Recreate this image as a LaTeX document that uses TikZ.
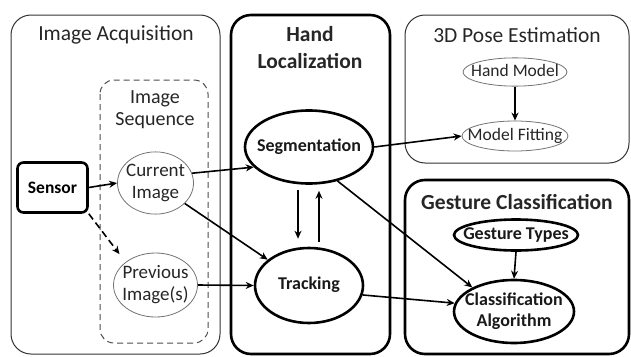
\documentclass[tikz,border=0pt]{standalone}
\usepackage{fontspec}
\setmainfont{Carlito}
\usetikzlibrary{shapes.geometric,arrows.meta,calc}
\newcommand\zw[1]{\makebox[0pt]{\begin{tabular}{@{}c@{}}#1\end{tabular}}}
\begin{document}
\begin{tikzpicture}[x=1pt,y=-1pt,
  thinbox/.style={draw=black!80, line width=1pt, rounded corners=20pt},
  thickbox/.style={draw=black, line width=2.6pt, rounded corners=20pt},
  dashbox/.style={draw=black!70, line width=1pt, dash pattern=on 6pt off 4pt, rounded corners=14pt},
  title/.style={text=black!85, font=\fontsize{21.5}{25}\selectfont},
  btitle/.style={text=black!85, font=\fontsize{21.5}{27}\selectfont\bfseries, align=center},
  thinell/.style={ellipse, draw=black!55, line width=0.8pt, inner sep=0pt, text=black!85, font=\fontsize{19}{22}\selectfont},
  smallell/.style={ellipse, draw=black!55, line width=0.8pt, inner sep=0pt, text=black!85, font=\fontsize{17.5}{20}\selectfont},
  thickell/.style={ellipse, draw=black, line width=2.6pt, inner sep=0pt, text=black!90, font=\fontsize{18}{21}\selectfont\bfseries},
  arr/.style={draw=black, line width=1.6pt, -{Stealth[length=8pt,width=7pt]}},
]
\useasboundingbox (0,0) rectangle (631,356);
% containers
\draw[thinbox] (11,15) rectangle (220,354);
\draw[dashbox] (100,80) rectangle (208,343);
\draw[thickbox] (231,15) rectangle (390,354);
\draw[thinbox] (405,15) rectangle (629,163);
\draw[thickbox] (405,180) rectangle (629,354);
% titles
\node[title] (acqT) at (116,35) {Image Acquisition};
\node[text=black!85, font=\fontsize{20}{22}\selectfont, align=center] (seqT) at (155,110) {Image\\Sequence};
\node[btitle] (hlT) at (310,48) {Hand\\Localization};
\node[title] (poseT) at (517,35) {3D Pose Estimation};
\node[btitle] (gcT) at (517,202) {Gesture Classification};
% nodes
\node[draw=black, line width=2.6pt, rounded corners=6pt, minimum width=70pt, minimum height=50pt,
      font=\fontsize{17.5}{21}\selectfont\bfseries] (sensor) at (52.5,187.5) {Sensor};
\node[thinell, minimum width=76pt, minimum height=62pt] (cur) at (155.5,183) {\zw{Current\\Image}};
\node[thinell, minimum width=84pt, minimum height=64pt] (prev) at (155.5,285) {\zw{Previous\\Image(s)}};
\node[thickell, minimum width=128pt, minimum height=73pt] (seg) at (309,147) {\zw{Segmentation}};
\node[thickell, minimum width=108pt, minimum height=75pt] (track) at (309,285.5) {\zw{Tracking}};
\node[smallell, minimum width=104pt, minimum height=28pt] (hm) at (515,72) {\zw{Hand Model}};
\node[smallell, minimum width=106pt, minimum height=30pt] (mf) at (515,136) {\zw{Model Fitting}};
\node[thickell, minimum width=124pt, minimum height=31pt] (gt) at (516,235) {\zw{Gesture Types}};
\node[thickell, minimum width=120pt, minimum height=63pt] (ca) at (514,311.5) {\zw{Classification\\Algorithm}};
% connectors
\draw[arr] (sensor.east) -- (cur.west);
\draw[arr, dash pattern=on 7pt off 4pt, shorten >=10pt] (sensor.south east) -- (prev.north west);
\draw[arr] (cur.15) -- (seg.200);
\draw[arr] (cur.-35) -- (track.148);
\draw[arr] (prev.east) -- (track.west);
\draw[arr, shorten <=5pt, shorten >=8pt] ([xshift=-11pt]seg.south) -- ([xshift=-11pt]track.north);
\draw[arr, shorten <=5pt, shorten >=6pt] ([xshift=10pt]track.north) -- ([xshift=10pt]seg.south);
\draw[arr] (seg.east) -- (mf.west);
\draw[arr] (hm.south) -- (mf.north);
\draw[arr] (seg.-50) -- (ca.150);
\draw[arr] (track.-10) -- (ca.172);
\draw[arr] (gt.south) -- (ca.north);
\end{tikzpicture}
\end{document}
